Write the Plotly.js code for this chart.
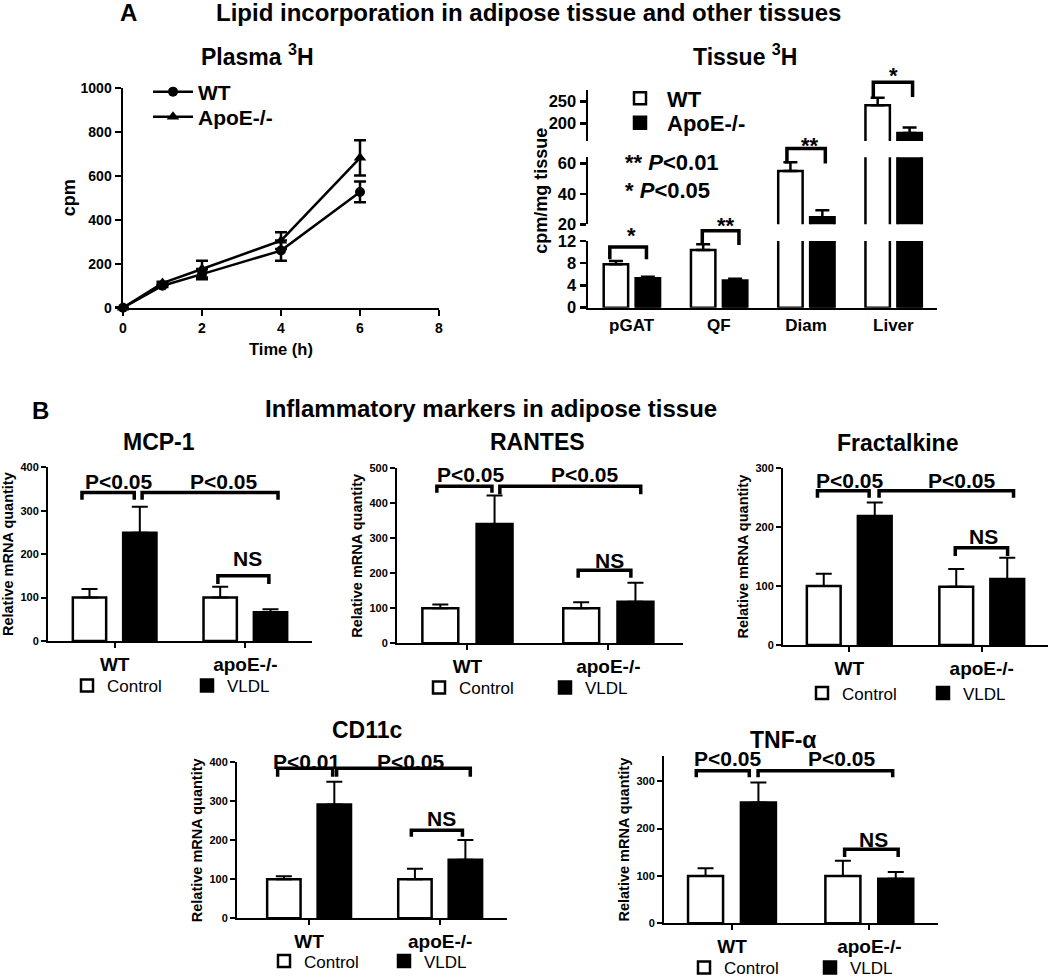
<!DOCTYPE html>
<html><head><meta charset="utf-8">
<script src="https://cdn.plot.ly/plotly-3.0.1.min.js"></script>
<style>html,body{margin:0;padding:0;background:#fff}</style>
</head><body><div id="chart" style="width:1050px;height:978px"></div>
<script>
// ================= DATA =================
// Panel A – Plasma 3H
const plasmaTime = [0, 1, 2, 4, 6];
const plasmaWT = [0, 100, 153, 260, 527];
const plasmaWTErr = [0, 6, 23, 46, 47];
const plasmaApoE = [0, 112, 176, 305, 682];
const plasmaApoEErr = [0, 6, 38, 38, 80];
const plasmaNames = ['WT', 'ApoE-/-'];

// Panel A – Tissue 3H
const tissueCats = ['pGAT', 'QF', 'Diam', 'Liver'];
const tissueWT = [7.8, 10.4, 55, 241.5];
const tissueWTErr = [0.6, 1.0, 5.7, 17.5];
const tissueApoE = [5.3, 4.9, 24.6, 177.7];
const tissueApoEErr = [0.25, 0.3, 4.6, 12.3];
const tissueNames = ['WT', 'ApoE-/-'];
const tissueStars = ['*', '**', '**', '*'];

// Panel B – inflammatory markers (relative mRNA quantity)
const genotypes = ['WT', 'apoE-/-'];
const treatNames = ['Control', 'VLDL'];
const mcp1Control = [100, 100], mcp1ControlErr = [20, 25];
const mcp1VLDL = [249, 66], mcp1VLDLErr = [60, 7];
const rantesControl = [100, 100], rantesControlErr = [11, 17];
const rantesVLDL = [341, 119], rantesVLDLErr = [81, 54];
const fracControl = [100, 99], fracControlErr = [21, 30];
const fracVLDL = [219, 112], fracVLDLErr = [23, 36];
const cd11cControl = [100, 100], cd11cControlErr = [8, 27];
const cd11cVLDL = [292, 150], cd11cVLDLErr = [58, 51];
const tnfControl = [100, 100], tnfControlErr = [16, 32];
const tnfVLDL = [255, 94], tnfVLDLErr = [42, 14];
const mcp1Sig = ['P<0.05', 'P<0.05', 'NS'];
const rantesSig = ['P<0.05', 'P<0.05', 'NS'];
const fracSig = ['P<0.05', 'P<0.05', 'NS'];
const cd11cSig = ['P<0.01', 'P<0.05', 'NS'];
const tnfSig = ['P<0.05', 'P<0.05', 'NS'];

// ================= LAYOUT HELPERS =================
const W = 1050, H = 978;
const FONT = 'Liberation Sans, Arial, Helvetica, sans-serif';
const px = v => v / W;
const py = v => 1 - v / H;
const xdom = (a, b) => [px(a), px(b)];
const ydom = (top, bottom) => [py(bottom), py(top)];
const frac = (r, v) => (v - r[0]) / (r[1] - r[0]);
const esc = s => s.replace(/</g, '&lt;');
const zeros = a => a.map(() => 0);

function axis(extra) {
  return Object.assign({
    showline: true, linecolor: '#000', linewidth: 2.5,
    ticks: 'outside', ticklen: 6, tickwidth: 2.5, tickcolor: '#000',
    showgrid: false, zeroline: false, fixedrange: true, color: '#000'
  }, extra);
}
function legendAt(x, y, size, weight, extra) {
  return Object.assign({x: px(x), y: py(y), xanchor: 'left', yanchor: 'middle',
    bgcolor: 'rgba(0,0,0,0)', font: {size: size, weight: weight}, itemwidth: 30, tracegroupgap: 0}, extra || {});
}

const traces = [];
const shapes = [];
const annotations = [];
const layout = {
  width: W, height: H, margin: {l: 0, r: 0, t: 0, b: 0, autoexpand: false},
  paper_bgcolor: '#fff', plot_bgcolor: 'rgba(0,0,0,0)',
  font: {family: FONT, color: '#000', weight: 'bold'},
  showlegend: true,
  title: {text: 'Lipid incorporation in adipose tissue and other tissues',
          x: px(216), xanchor: 'left', y: py(13), yanchor: 'middle',
          font: {size: 24, weight: 'bold', family: FONT}}
};

function bracket(xa, ya, yr, x1, x2, top, leg, w) {
  const ft = frac(yr, top), fl = frac(yr, leg);
  shapes.push({type: 'path', xref: xa, yref: ya + ' domain',
    path: `M${x1},${fl} L${x1},${ft} L${x2},${ft} L${x2},${fl}`,
    line: {color: '#000', width: w || 3.5}});
}
function label(xa, ya, yr, x, y, text, size, extra) {
  annotations.push(Object.assign({xref: xa, yref: ya + ' domain', x: x, y: frac(yr, y),
    text: text, showarrow: false, xanchor: 'center', yanchor: 'middle',
    font: {size: size, weight: 'bold'}}, extra || {}));
}
function paperText(x, y, text, size, extra) {
  annotations.push(Object.assign({xref: 'paper', yref: 'paper', x: px(x), y: py(y),
    text: text, showarrow: false, xanchor: 'center', yanchor: 'middle',
    font: {size: size, weight: 'bold'}}, extra || {}));
}

// ================= PANEL A: PLASMA =================
const plasmaSeries = [[plasmaWT, plasmaWTErr, 'circle', 10, 'legend', 92], [plasmaApoE, plasmaApoEErr, 'triangle-up', 11, 'legend2', 117]];
plasmaSeries.forEach((s, i) => {
  traces.push({
    type: 'scatter', mode: 'lines+markers', x: plasmaTime, y: s[0], name: plasmaNames[i],
    xaxis: 'x', yaxis: 'y', legend: s[4], cliponaxis: false,
    line: {color: '#000', width: 2.5}, marker: {symbol: s[2], size: s[3], color: '#000'},
    error_y: {type: 'data', array: s[1], visible: true, color: '#000', thickness: 2.5, width: 6}
  });
  layout[s[4]] = legendAt(148, s[5], 21, 'bold', {itemwidth: 40});
});
layout.xaxis = axis({domain: xdom(123, 439), anchor: 'y', range: [0, 8], tickvals: [0, 2, 4, 6, 8],
  tickfont: {size: 14, weight: 'bold'}, title: {text: 'Time (h)', font: {size: 16.5, weight: 'bold'}, standoff: 9}});
layout.yaxis = axis({domain: ydom(88, 307.7), anchor: 'x', range: [0, 1000], tickvals: [0, 200, 400, 600, 800, 1000],
  tickfont: {size: 14, weight: 'bold'}, title: {text: 'cpm', font: {size: 18, weight: 'bold'}, standoff: 0}});
paperText(257, 55, 'Plasma <sup>3</sup>H', 23);

// ================= PANEL A: TISSUE (broken y axis) =================
const tissueSegs = [
  {ya: 'y2', key: 'yaxis2', dom: [241, 307.7], range: [0, 12], ticks: [0, 4, 8, 12]},
  {ya: 'y3', key: 'yaxis3', dom: [157.3, 224.3], range: [20, 64], ticks: [20, 40, 60]},
  {ya: 'y4', key: 'yaxis4', dom: [90, 141], range: [159, 277], ticks: [200, 250]}
];
const tissueLegends = [['legend3', 98.5], ['legend4', 123]];
tissueSegs.forEach((seg, k) => {
  [[tissueWT, tissueWTErr, '#fff', -0.32], [tissueApoE, tissueApoEErr, '#000', 0.046]].forEach((s, i) => {
    traces.push({type: 'bar', x: tissueCats, y: s[0], name: tissueNames[i], xaxis: 'x2', yaxis: seg.ya,
      legend: tissueLegends[i][0], showlegend: k === 0, width: 0.28, offset: s[3],
      marker: {color: s[2], line: {color: '#000', width: 2.5}},
      error_y: {type: 'data', array: s[1], arrayminus: zeros(s[1]), symmetric: false, visible: true,
        color: '#000', thickness: 2.5, width: 7}});
  });
  layout[seg.key] = axis({domain: ydom(seg.dom[0], seg.dom[1]), anchor: 'x2', range: seg.range,
    tickvals: seg.ticks, tickfont: {size: 16.5, weight: 'bold'}});
});
tissueLegends.forEach(l => { layout[l[0]] = legendAt(613, l[1], 22, 'bold', {itemwidth: 44}); });
layout.yaxis3.title = {text: 'cpm/mg tissue', font: {size: 18, weight: 'bold'}, standoff: 6};
layout.xaxis2 = axis({domain: xdom(588, 937), anchor: 'y2', type: 'category', range: [-0.5, 3.5],
  ticks: '', tickfont: {size: 17, weight: 'bold'}});
paperText(745, 55, 'Tissue <sup>3</sup>H', 23);
// significance brackets (x in category units, y in the segment's data units)
const tissueBr = [
  {ya: 'y2', r: [0, 12], x1: -0.25, x2: 0.17, top: 10.9, leg: 8.7, tx: 0.0, ty: 13.0},
  {ya: 'y2', r: [0, 12], x1: 0.81, x2: 1.23, top: 13.85, leg: 11.3, tx: 1.08, ty: 14.8},
  {ya: 'y3', r: [20, 64], x1: 1.78, x2: 2.22, top: 69.8, leg: 60, tx: 2.05, ty: 71.8},
  {ya: 'y4', r: [159, 277], x1: 2.77, x2: 3.22, top: 295, leg: 261, tx: 3.0, ty: 310}
];
tissueBr.forEach((b, i) => {
  bracket('x2', b.ya, b.r, b.x1, b.x2, b.top, b.leg, 3.5);
  label('x2', b.ya, b.r, b.tx, b.ty, tissueStars[i], 22);
});
paperText(623, 163, '** <i>P</i>&lt;0.01', 22, {xanchor: 'left'});
paperText(623, 190, '* <i>P</i>&lt;0.05', 22, {xanchor: 'left'});

// ================= PANEL B =================
const panelsB = [
  {title: 'MCP-1', ctrl: mcp1Control, ctrlErr: mcp1ControlErr, vldl: mcp1VLDL, vldlErr: mcp1VLDLErr, sig: mcp1Sig,
   xd: [48, 312], yd: [467.3, 641], xr: [-0.51, 1.51], yr: [0, 400], yt: [0, 100, 200, 300, 400],
   tpos: [159, 442], leg: [67, 686], ew: 75,
   br: [[-0.25, 0.15, 342, 325], [0.21, 1.25, 342, 325], [0.79, 1.18, 150, 131]],
   lp: [[0.03, 367], [0.83, 367], [1.02, 189]]},
  {title: 'RANTES', ctrl: rantesControl, ctrlErr: rantesControlErr, vldl: rantesVLDL, vldlErr: rantesVLDLErr, sig: rantesSig,
   xd: [397, 683], yd: [468.3, 643.3], xr: [-0.50, 1.53], yr: [0, 500], yt: [0, 100, 200, 300, 400, 500],
   tpos: [537, 442], leg: [419, 688], ew: 81,
   br: [[-0.217, 0.174, 449, 430], [0.23, 1.23, 449, 426], [0.786, 1.16, 209, 187]],
   lp: [[0.02, 481], [0.83, 481], [1.01, 238]]},
  {title: 'Fractalkine', ctrl: fracControl, ctrlErr: fracControlErr, vldl: fracVLDL, vldlErr: fracVLDLErr, sig: fracSig,
   xd: [783, 1048], yd: [468.3, 645], xr: [-0.50, 1.50], yr: [0, 300], yt: [0, 100, 200, 300],
   tpos: [897, 443], leg: [802, 693.5], ew: 76,
   br: [[-0.24, 0.15, 262, 250], [0.225, 1.24, 262, 250], [0.80, 1.195, 165, 151]],
   lp: [[0.0, 280], [0.85, 280], [1.01, 184]]},
  {title: 'CD11c', ctrl: cd11cControl, ctrlErr: cd11cControlErr, vldl: cd11cVLDL, vldlErr: cd11cVLDLErr, sig: cd11cSig,
   xd: [237, 507], yd: [762.3, 918.3], xr: [-0.55, 1.51], yr: [0, 400], yt: [0, 100, 200, 300, 400],
   tpos: [367, 730], leg: [264, 961.5], ew: 75,
   br: [[-0.24, 0.18, 385, 363], [0.21, 1.23, 385, 363], [0.78, 1.17, 226, 209]],
   lp: [[-0.02, 401], [0.77, 401], [1.01, 257]]},
  {title: 'TNF-α', ctrl: tnfControl, ctrlErr: tnfControlErr, vldl: tnfVLDL, vldlErr: tnfVLDLErr, sig: tnfSig,
   xd: [664, 938], yd: [756, 923.3], xr: [-0.495, 1.50], yr: [0, 353], yt: [0, 100, 200, 300],
   tpos: [783, 740], leg: [684, 968], ew: 81,
   br: [[-0.26, 0.126, 322, 308], [0.19, 1.17, 322, 308], [0.82, 1.21, 156, 140]],
   lp: [[-0.03, 348], [0.80, 348], [1.03, 176]]}
];
panelsB.forEach((p, i) => {
  const n = i + 3, yn = i + 5;
  const xa = 'x' + n, ya = 'y' + yn, lg = 'legend' + (i + 5);
  [[p.ctrl, p.ctrlErr, '#fff', -0.32], [p.vldl, p.vldlErr, '#000', 0.065]].forEach((s, j) => {
    traces.push({type: 'bar', x: [0, 1], y: s[0], name: treatNames[j], xaxis: xa, yaxis: ya,
      legend: lg, width: 0.255, offset: s[3],
      marker: {color: s[2], line: {color: '#000', width: 2.5}},
      error_y: {type: 'data', array: s[1], arrayminus: zeros(s[1]), symmetric: false, visible: true,
        color: '#000', thickness: 2, width: 8}});
  });
  layout['xaxis' + n] = axis({domain: xdom(p.xd[0], p.xd[1]), anchor: ya, range: p.xr,
    tickvals: [0, 1], ticktext: genotypes, linewidth: 2, tickwidth: 2, ticklen: 5,
    tickfont: {size: 19, weight: 'bold'}});
  layout['yaxis' + yn] = axis({domain: ydom(p.yd[0], p.yd[1]), anchor: xa, range: p.yr, tickvals: p.yt,
    linewidth: 2, tickwidth: 2, ticklen: 5, tickfont: {size: 11, weight: 'bold'},
    title: {text: 'Relative mRNA quantity', font: {size: 14.5, weight: 'bold'}, standoff: 3}});
  layout[lg] = legendAt(p.leg[0], p.leg[1], 17, 'normal', {orientation: 'h', entrywidth: p.ew});
  paperText(p.tpos[0], p.tpos[1], p.title, 23);
  p.br.forEach((b, k) => {
    bracket(xa, ya, p.yr, b[0], b[1], b[2], b[3], 3.5);
    label(xa, ya, p.yr, p.lp[k][0], p.lp[k][1], esc(p.sig[k]), 21);
  });
});

// section labels
paperText(128, 13, 'A', 24);
paperText(40, 410, 'B', 24);
paperText(491, 408, 'Inflammatory markers in adipose tissue', 24);

layout.shapes = shapes;
layout.annotations = annotations;
layout.barmode = 'overlay';

Plotly.newPlot('chart', traces, layout, {staticPlot: true, displayModeBar: false});
</script>
</body></html>
